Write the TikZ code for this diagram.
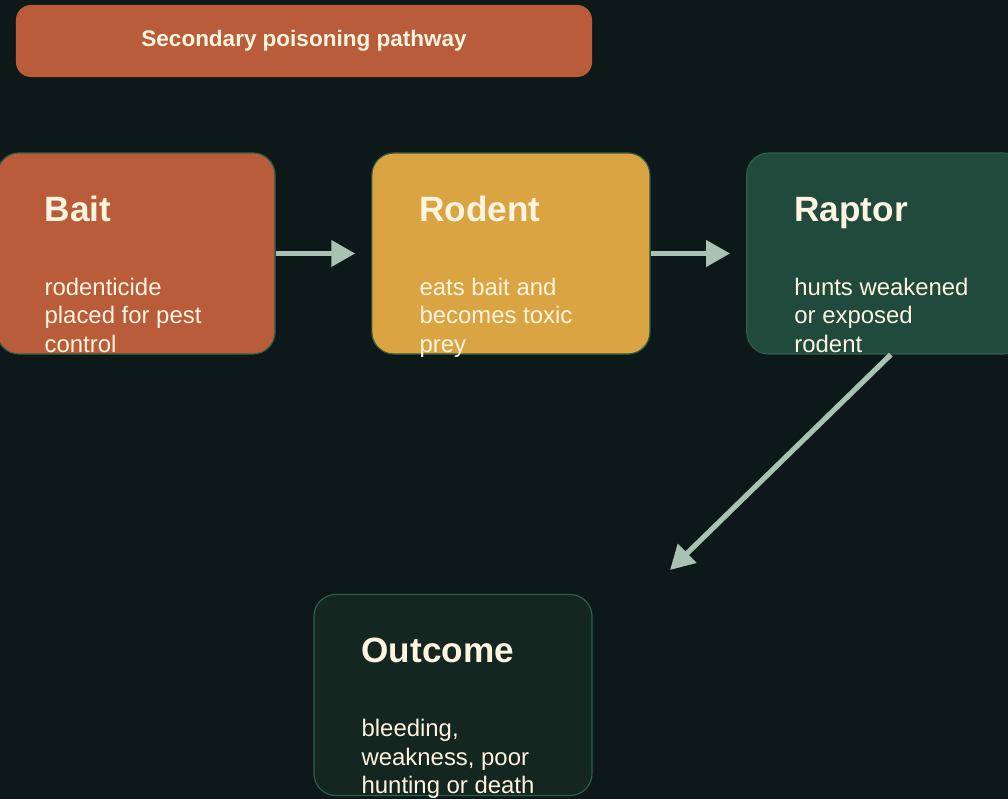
\documentclass[tikz,border=0pt]{standalone}
\usepackage{fontspec}
\setmainfont{Liberation Sans}
\usetikzlibrary{arrows.meta, positioning, calc}

\definecolor{pagebg}{HTML}{0D1919}
\definecolor{baitfill}{HTML}{B95C3A}
\definecolor{rodentfill}{HTML}{DBA442}
\definecolor{raptorfill}{HTML}{1F4A3C}
\definecolor{outcomefill}{HTML}{13261F}
\definecolor{cardedge}{HTML}{2F5E4A}
\definecolor{flowcol}{HTML}{A9C2B4}
\definecolor{inkcream}{HTML}{FFF4E0}

\begin{document}
\begin{tikzpicture}[
    x=0.025cm, y=-0.025cm,
    >={Triangle[length=0.6cm, width=0.64cm]}, % big flat arrowheads
    card/.style={draw=cardedge, line width=0.03cm, rectangle, rounded corners=0.55cm,
        minimum width=6.95cm, minimum height=5.025cm}, % the four stage boxes
    banner/.style={rectangle, rounded corners=0.375cm, fill=baitfill,
        minimum width=14.4cm, minimum height=1.8cm, text=inkcream,
        font=\fontsize{16}{19}\selectfont\bfseries},
    head/.style={anchor=base west, text=inkcream, inner sep=0pt,
        font=\fontsize{25}{30}\selectfont\bfseries},
    body/.style={anchor=base west, text=inkcream, inner sep=0pt, align=left,
        font=\fontsize{17}{20.3}\selectfont}, % base = last line
    flow/.style={->, draw=flowcol, fill=flowcol, line width=0.13cm}
]

    % === Background and page size ===
    \fill[pagebg] (0,0) rectangle (1008,799);
    \useasboundingbox (0,0) rectangle (1008,799);

    % === Title ===
    \node[banner] (title) at (304,41) {Secondary poisoning pathway};

    % === Stage boxes ===
    \node[card, fill=baitfill] (bait) at (136,253.5) {};
    \node[card, fill=rodentfill, right=2.39cm of bait] (rodent) {};
    \node[card, fill=raptorfill, right=2.39cm of rodent] (raptor) {};
    \node[card, fill=outcomefill] (outcome) at (453,695) {};

    % === Texts inside the boxes ===
    \node[head] (bait_h) at ($(bait.north west)+(48,69)$) {Bait};
    \node[body] (bait_b) at ($(bait.north west)+(48,200)$) {rodenticide\\placed for pest\\control};

    \node[head] (rodent_h) at ($(rodent.north west)+(48,69)$) {Rodent};
    \node[body] (rodent_b) at ($(rodent.north west)+(48,200)$) {eats bait and\\becomes toxic\\prey};

    \node[head] (raptor_h) at ($(raptor.north west)+(48,69)$) {Raptor};
    \node[body] (raptor_b) at ($(raptor.north west)+(48,200)$) {hunts weakened\\or exposed\\rodent};

    \node[head] (outcome_h) at ($(outcome.north west)+(48,69)$) {Outcome};
    \node[body] (outcome_b) at ($(outcome.north west)+(48,200)$) {bleeding,\\weakness, poor\\hunting or death};

    % === Arrows ===
    \coordinate (drop) at (670,570);
    \draw[flow, shorten >=0.4cm] (bait.east) -- (rodent.west);
    \draw[flow, shorten >=0.4cm] (rodent.east) -- (raptor.west);
    \draw[flow] ($(raptor.south)+(5,0)$) -- (drop);

\end{tikzpicture}
\end{document}
